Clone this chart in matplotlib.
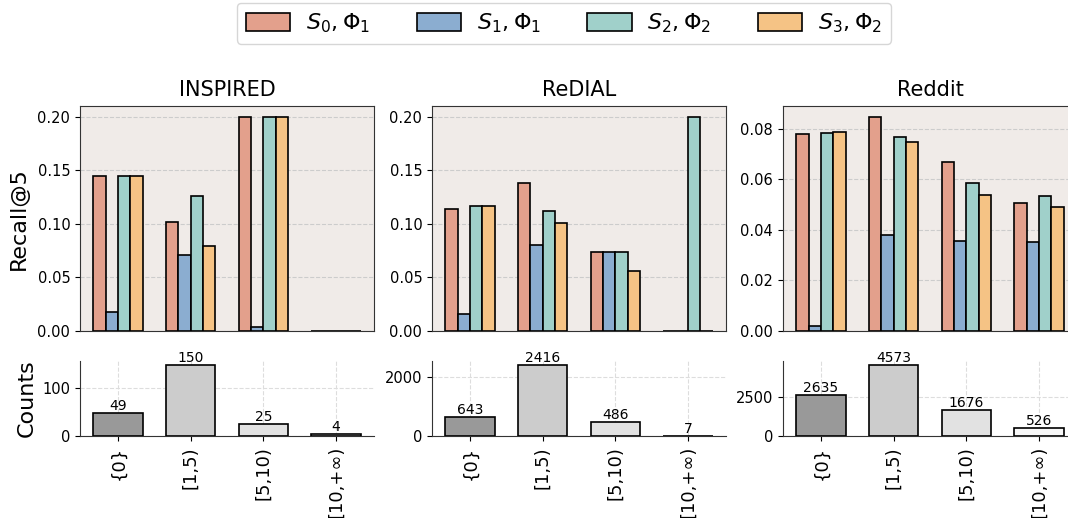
import matplotlib
matplotlib.use("Agg")
import matplotlib.pyplot as plt
from matplotlib.ticker import MaxNLocator
import numpy as np

datasets = ["INSPIRED", "ReDIAL", "Reddit"]
bins = ["{0}", "[1,5)", "[5,10)", "[10,+∞)"]
series_labels = [r"$S_0,\Phi_1$", r"$S_1,\Phi_1$", r"$S_2,\Phi_2$", r"$S_3,\Phi_2$"]

inspired_s0p1 = [0.145, 0.102, 0.200, 0.0]
inspired_s1p1 = [0.018, 0.071, 0.004, 0.0]
inspired_s2p2 = [0.145, 0.126, 0.200, 0.0]
inspired_s3p2 = [0.145, 0.079, 0.200, 0.0]

redial_s0p1 = [0.114, 0.138, 0.0735, 0.0]
redial_s1p1 = [0.016, 0.080, 0.0735, 0.0]
redial_s2p2 = [0.117, 0.112, 0.0735, 0.200]
redial_s3p2 = [0.117, 0.101, 0.056, 0.0]

reddit_s0p1 = [0.0779, 0.0846, 0.0667, 0.0506]
reddit_s1p1 = [0.0020, 0.0378, 0.0355, 0.0352]
reddit_s2p2 = [0.0783, 0.0768, 0.0583, 0.0534]
reddit_s3p2 = [0.0788, 0.0747, 0.0536, 0.0488]

inspired_counts = [49, 150, 25, 4]
redial_counts = [643, 2416, 486, 7]
reddit_counts = [2635, 4573, 1676, 526]

recall = {
    "INSPIRED": [inspired_s0p1, inspired_s1p1, inspired_s2p2, inspired_s3p2],
    "ReDIAL": [redial_s0p1, redial_s1p1, redial_s2p2, redial_s3p2],
    "Reddit": [reddit_s0p1, reddit_s1p1, reddit_s2p2, reddit_s3p2],
}
counts = {"INSPIRED": inspired_counts, "ReDIAL": redial_counts, "Reddit": reddit_counts}

series_colors = ["#E3A08C", "#8BADD0", "#A0D0CA", "#F5C385"]
count_colors = ["#999999", "#cccccc", "#e2e2e2", "#f7f7f7"]
bg = "#f0ebe8"
spine_c = "#333333"

fig = plt.figure(figsize=(10.68, 5.18), dpi=100)
lefts = [0.0749, 0.4045, 0.7331]
w = 0.2753
top_b, top_h = 0.361, 0.434
bot_b, bot_h = 0.158, 0.145

x = np.arange(len(bins))
bw = 0.17
handles = None
for i, ds in enumerate(datasets):
    ax = fig.add_axes([lefts[i], top_b, w, top_h])
    ax.set_facecolor(bg)
    hs = []
    for j, vals in enumerate(recall[ds]):
        h = ax.bar(x + (j - 1.5) * bw, vals, bw, color=series_colors[j],
                   edgecolor="black", linewidth=1.2, label=series_labels[j], zorder=3)
        hs.append(h)
    handles = hs
    ax.grid(axis="y", linestyle="--", color="#cccccc", linewidth=0.8, zorder=0)
    ax.set_xticks([])
    ax.set_title(ds, fontsize=15, pad=7)
    ax.tick_params(axis="y", labelsize=10.5)
    for s in ax.spines.values():
        s.set_color(spine_c)
    xl = ax.get_xlim()
    if i == 0:
        ax.set_ylabel("Recall@5", fontsize=16, labelpad=6)

    axb = fig.add_axes([lefts[i], bot_b, w, bot_h])
    axb.bar(x, counts[ds], 0.68, color=count_colors, edgecolor="black",
            linewidth=1.2, zorder=3)
    for xi, c in zip(x, counts[ds]):
        axb.text(xi, c, str(c), ha="center", va="bottom", fontsize=10, zorder=4)
    axb.set_xlim(xl)
    axb.set_xticks(x)
    axb.set_xticklabels(bins, rotation=90, fontsize=13)
    axb.yaxis.set_major_locator(MaxNLocator(nbins=2, steps=[1, 2, 2.5, 5, 10]))
    axb.tick_params(axis="y", labelsize=10.5)
    axb.grid(True, linestyle="--", color="#dddddd", linewidth=0.8, zorder=0)
    axb.spines["top"].set_visible(False)
    axb.spines["right"].set_visible(False)
    axb.spines["left"].set_color(spine_c)
    axb.spines["bottom"].set_color(spine_c)
    if i == 0:
        axb.set_ylabel("Counts", fontsize=16)

fig.legend(handles, series_labels, loc="upper center", bbox_to_anchor=(0.528, 1.008),
           ncol=4, fontsize=16, frameon=True, handlelength=2.0, handleheight=0.9,
           handletextpad=0.7, columnspacing=2.1, borderaxespad=0.3)

fig.savefig("out.png", dpi=100)
